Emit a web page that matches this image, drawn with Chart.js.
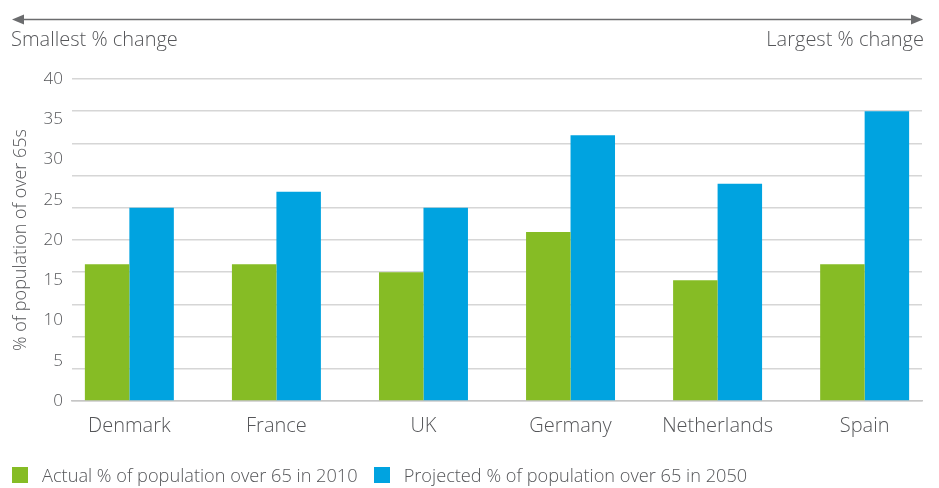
<!DOCTYPE html>
<html>
<head>
<meta charset="utf-8">
<script src="https://cdn.jsdelivr.net/npm/chart.js@4.4.1/dist/chart.umd.min.js"></script>
<style>
  html, body { margin: 0; padding: 0; background: #fff; }
  #wrap { width: 939px; height: 488px; position: relative; }
  #legend {
    position: absolute; left: 12px; top: 464px;
    display: flex; align-items: center;
    font-family: "Open Sans", "Noto Sans", sans-serif;
    font-weight: 300; font-size: 18.2px; color: #555659;
    line-height: 22px; white-space: nowrap;
  }
  #legend .item { display: flex; align-items: center; margin-right: 16px; }
  #legend .box { width: 16px; height: 16px; margin-right: 14px; }
</style>
</head>
<body>
<div id="wrap">
  <canvas id="popChart"></canvas>
  <div id="legend"></div>
</div>
<script>
const countries = ['Denmark', 'France', 'UK', 'Germany', 'Netherlands', 'Spain'];
const actual2010 = [17, 17, 16, 21, 15, 17];
const projected2050 = [24, 26, 24, 33, 27, 36];
const yLabelValues = [0, 5, 10, 15, 20, 25, 30, 35, 40];
const yGridValues = [0, 4, 8, 12, 16, 20, 24, 28, 32, 36, 40];

const textGrey = '#555659';
const fontFamily = '"Open Sans", "Noto Sans", sans-serif';

// arrow + captions above the plot
const arrowPlugin = {
  id: 'changeArrow',
  afterDraw(chart) {
    const ctx = chart.ctx;
    const y = 19.5;
    const x1 = 12, x2 = 923;
    ctx.save();
    ctx.strokeStyle = '#6b6c6e';
    ctx.fillStyle = '#6b6c6e';
    ctx.lineWidth = 1.5;
    ctx.beginPath();
    ctx.moveTo(x1 + 8, y);
    ctx.lineTo(x2 - 8, y);
    ctx.stroke();
    ctx.beginPath();
    ctx.moveTo(x1, y);
    ctx.lineTo(x1 + 12, y - 5);
    ctx.lineTo(x1 + 12, y + 5);
    ctx.closePath();
    ctx.fill();
    ctx.beginPath();
    ctx.moveTo(x2, y);
    ctx.lineTo(x2 - 12, y - 5);
    ctx.lineTo(x2 - 12, y + 5);
    ctx.closePath();
    ctx.fill();

    ctx.fillStyle = textGrey;
    ctx.font = '300 20px ' + fontFamily;
    ctx.textBaseline = 'alphabetic';
    ctx.textAlign = 'left';
    ctx.fillText('Smallest % change', 11, 46);
    ctx.textAlign = 'right';
    ctx.fillText('Largest % change', 924, 46);
    ctx.restore();
  }
};

const chart = new Chart(document.getElementById('popChart'), {
  type: 'bar',
  data: {
    datasets: [{
      label: 'Actual % of population over 65 in 2010',
      data: actual2010.map((v, i) => ({ x: i, y: v })),
      backgroundColor: '#86bc25',
      borderWidth: 0
    }, {
      label: 'Projected % of population over 65 in 2050',
      data: projected2050.map((v, i) => ({ x: i, y: v })),
      backgroundColor: '#00a3e0',
      borderWidth: 0
    }]
  },
  options: {
    responsive: true,
    maintainAspectRatio: false,
    animation: false,
    categoryPercentage: 0.605,
    barPercentage: 1,
    layout: { padding: { top: 79, left: 10, right: 17, bottom: 45 } },
    plugins: {
      tooltip: { enabled: false },
      legend: { display: false }
    },
    scales: {
      x: {
        type: 'linear',
        offset: false,
        min: -0.39,
        max: 5.39,
        afterBuildTicks: (scale) => {
          scale.ticks = countries.map((c, i) => ({ value: i }));
        },
        ticks: {
          autoSkip: false,
          maxRotation: 0,
          padding: 5,
          color: textGrey,
          font: { family: fontFamily, size: 20, weight: 300 },
          callback: (v) => countries[v]
        },
        grid: { display: false },
        border: { display: true, color: '#c6c6c6', width: 1.5 }
      },
      // gridlines only
      y: {
        min: 0,
        max: 40,
        afterBuildTicks: (scale) => {
          scale.ticks = yGridValues.map(v => ({ value: v }));
        },
        ticks: { display: false },
        grid: { drawTicks: false, lineWidth: 1.5, color: '#d6d6d6' },
        border: { display: false }
      },
      // labels only
      yLabels: {
        position: 'left',
        min: 0,
        max: 40,
        afterBuildTicks: (scale) => {
          scale.ticks = yLabelValues.map(v => ({ value: v }));
        },
        ticks: {
          autoSkip: false,
          padding: 9,
          color: textGrey,
          font: { family: fontFamily, size: 17, weight: 300 }
        },
        grid: { display: false, drawTicks: false },
        border: { display: false },
        title: {
          display: true,
          text: '% of population of over 65s',
          color: textGrey,
          padding: { top: 0, bottom: 3 },
          font: { family: fontFamily, size: 18, weight: 300 }
        }
      }
    }
  },
  plugins: [arrowPlugin]
});

// html legend built from the datasets
const legendEl = document.getElementById('legend');
chart.data.datasets.forEach(ds => {
  const item = document.createElement('div');
  item.className = 'item';
  const box = document.createElement('span');
  box.className = 'box';
  box.style.background = ds.backgroundColor;
  const label = document.createElement('span');
  label.textContent = ds.label;
  item.appendChild(box);
  item.appendChild(label);
  legendEl.appendChild(item);
});
</script>
</body>
</html>
